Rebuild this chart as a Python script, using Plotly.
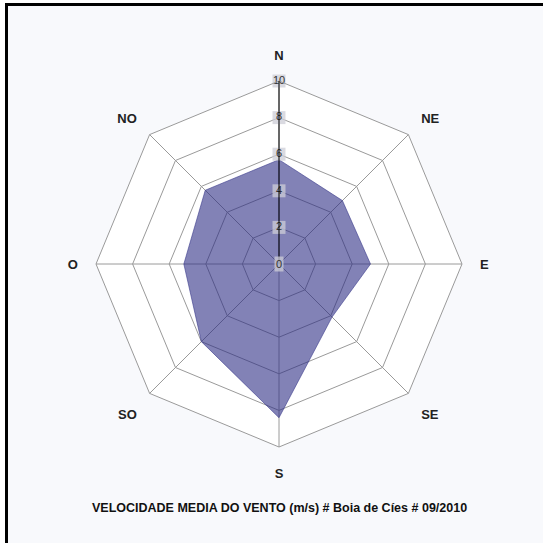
import plotly.graph_objects as go

directions = ["N", "NE", "E", "SE", "S", "SO", "O", "NO"]
speeds = [5.7, 4.9, 5.0, 4.1, 8.4, 6.0, 5.2, 5.7]
radial_ticks = [0, 2, 4, 6, 8, 10]
radial_labels = ["0", "2", "4", "6", "8", "10"]
caption = "VELOCIDADE MEDIA DO VENTO (m/s) # Boia de Cíes # 09/2010"
top_title = "VELOCIDADES MEDIAS DO VENTO"

W = H = 543
cx, cy, R = 279, 264, 183

fig = go.Figure()
fig.add_trace(go.Scatterpolar(
    r=speeds + speeds[:1], theta=directions + directions[:1],
    mode="lines", fill="toself",
    fillcolor="rgba(40,40,130,0.58)",
    line=dict(color="rgba(60,60,140,0.6)", width=1),
    hoverinfo="skip", showlegend=False,
))
fig.add_trace(go.Scatterpolar(
    r=radial_ticks[1:], theta=["N"] * (len(radial_ticks) - 1),
    mode="markers+text", text=radial_labels[1:],
    textposition="middle center",
    textfont=dict(family="Liberation Sans", size=11, color="#333333"),
    marker=dict(symbol="square", size=13, color="rgba(205,205,215,0.75)"),
    cliponaxis=False,
    hoverinfo="skip", showlegend=False,
))

label_font = dict(family="Liberation Sans", size=13, color="#222222", weight="bold")

fig.update_layout(
    width=W, height=H,
    margin=dict(l=0, r=0, t=0, b=0),
    paper_bgcolor="#f8f9fc",
    showlegend=False,
    polar=dict(
        domain=dict(x=[(cx - R) / W, (cx + R) / W],
                    y=[(H - cy - R) / H, (H - cy + R) / H]),
        bgcolor="white",
        gridshape="linear",
        radialaxis=dict(
            range=[0, 10], tickvals=radial_ticks[1:], angle=90, tickangle=0,
            showticklabels=False, ticks="",
            showline=True, linecolor="black", linewidth=1,
            gridcolor="#9a9a9a", gridwidth=1,
        ),
        angularaxis=dict(
            type="category", categoryarray=directions,
            direction="clockwise", rotation=90,
            showline=True, linecolor="#9a9a9a", linewidth=1,
            gridcolor="#9a9a9a", gridwidth=1,
            ticks="outside", ticklen=15, tickcolor="rgba(0,0,0,0)",
            tickfont=label_font,
        ),
    ),
    shapes=[
        dict(type="rect", xref="paper", yref="paper", layer="below",
             x0=0, x1=6.5 / W, y0=0, y1=1,
             fillcolor="white", line=dict(width=0)),
        dict(type="rect", xref="paper", yref="paper", layer="below",
             x0=0, x1=1, y0=1 - 4.5 / H, y1=1,
             fillcolor="white", line=dict(width=0)),
        dict(type="line", xref="paper", yref="paper",
             x0=6.5 / W, x1=6.5 / W, y0=0, y1=1 - 3 / H,
             line=dict(color="black", width=3)),
        dict(type="line", xref="paper", yref="paper",
             x0=5 / W, x1=1, y0=1 - 4.5 / H, y1=1 - 4.5 / H,
             line=dict(color="black", width=3)),
    ],
    annotations=[
        dict(text=radial_labels[0], xref="paper", yref="paper",
             x=cx / W, y=1 - cy / H, showarrow=False,
             bgcolor="rgba(205,205,215,0.75)", borderpad=1,
             font=dict(family="Liberation Sans", size=11, color="#333333")),
        dict(text=caption, xref="paper", yref="paper",
             x=cx / W, y=1 - 517 / H, showarrow=False,
             font=dict(family="Liberation Sans Narrow, Liberation Sans", size=12.5,
                       color="#111111", weight="bold")),
        dict(text=top_title, xref="paper", yref="paper",
             x=15 / W, xanchor="left", y=1, yanchor="bottom", yshift=-4,
             showarrow=False, borderpad=0,
             font=dict(family="Liberation Sans", size=20, color="#111111", weight="bold")),
    ],
)

fig.write_html(
    "out.html",
    config={"displayModeBar": False},
    post_script="document.body.style.margin='0';document.body.style.overflow='hidden';",
)
